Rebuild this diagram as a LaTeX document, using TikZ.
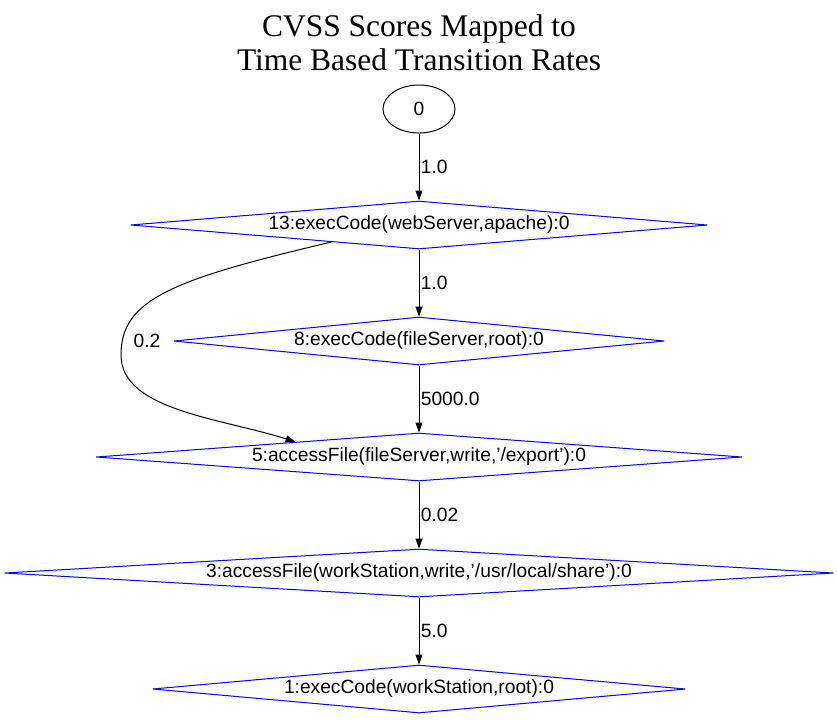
\documentclass[tikz,border=0pt]{standalone}
\usepackage{fontspec}
\setmainfont{Liberation Sans}
\newfontfamily\titlefont{Liberation Serif}
\usetikzlibrary{positioning, arrows.meta, shapes.geometric}

\begin{document}
\begin{tikzpicture}
		[x=0.75pt, y=-0.75pt, node distance=87pt,
		 fact/.style={diamond, draw=blue, line width=0.75pt, inner sep=0pt, minimum height=36pt, font=\fontsize{14.4pt}{16pt}\selectfont},
		 rate/.style={-{Triangle[length=7.5pt, width=5.25pt]}, line width=0.75pt},
		 score/.style={right, inner sep=1pt, font=\fontsize{14.4pt}{16pt}\selectfont}]
		\useasboundingbox (0,0) rectangle (837,719);
		% title %
		\node[anchor=north, align=center, inner sep=0pt, font=\titlefont\fontsize{23.6pt}{26pt}\selectfont] (title) at (419,14) {CVSS Scores Mapped to\\Time Based Transition Rates};
		% nodes %
		\node[ellipse, draw, line width=0.75pt, inner sep=0pt, minimum width=54pt, minimum height=36pt, font=\fontsize{14.4pt}{16pt}\selectfont] (n0) at (419,109) {0};
		\node[fact, below of = n0, minimum width=432.75pt, aspect=12.02] (n13) {13:execCode(webServer,apache):0};
		\node[fact, below of = n13, minimum width=368pt, aspect=10.22] (n8) {8:execCode(fileServer,root):0};
		\node[fact, below of = n8, minimum width=484.5pt, aspect=13.46] (n5) {5:accessFile(fileServer,write,'/export'):0};
		\node[fact, below of = n5, minimum width=621.75pt, aspect=17.27] (n3) {3:accessFile(workStation,write,'/usr/local/share'):0};
		\node[fact, below of = n3, minimum width=399.75pt, aspect=11.10] (n1) {1:execCode(workStation,root):0};

		% edges %
		\draw[rate] (n0) -- node[score] {1.0} (n13);
		\draw[rate] (n13) -- node[score] {1.0} (n8);
		\draw[rate] (n8) -- node[score] {5000.0} (n5);
		\draw[rate] (n5) -- node[score] {0.02} (n3);
		\draw[rate] (n3) -- node[score] {5.0} (n1);
		\draw[rate] (n13.191) .. controls (170,280) and (121,300) .. (121,355) .. controls (121,410) and (220,418) .. (n5.173);
		\node[score, anchor=center] (l02) at (147,341) {0.2};
\end{tikzpicture}
\end{document}
